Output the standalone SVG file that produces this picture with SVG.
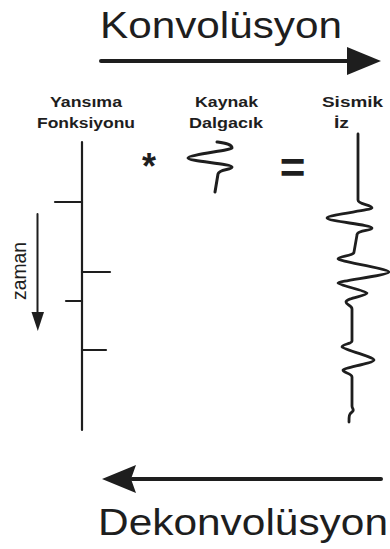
<svg xmlns="http://www.w3.org/2000/svg" width="390" height="549" viewBox="0 0 390 549">
  <style>
    .title { font-family: "Liberation Sans", Arial, sans-serif; fill: #1e1e1e; }
    .label { font-family: "Liberation Sans", Arial, sans-serif; font-weight: bold; font-size: 14.5px; fill: #1e1e1e; }
    .op { font-family: "Liberation Sans", Arial, sans-serif; fill: #1e1e1e; text-anchor: middle; }
    .wire { fill: none; stroke: #1e1e1e; stroke-linecap: round; stroke-linejoin: round; }
    .head { fill: #1e1e1e; }
  </style>
  <rect width="390" height="549" fill="#ffffff"/>

  <!-- process arrows -->
  <g id="connectors">
    <line class="wire" x1="101" y1="61" x2="352" y2="61" stroke-width="4"/>
    <polygon class="head" points="347,47 381,61 347,75"/>
    <line class="wire" x1="132" y1="479" x2="381" y2="479" stroke-width="4"/>
    <polygon class="head" points="102,479 136,465 131,479 136,493"/>
  </g>

  <g id="title-convolution">
    <text class="title" x="100" y="38" font-size="36" textLength="242" lengthAdjust="spacingAndGlyphs">Konvolüsyon</text>
  </g>
  <g id="title-deconvolution">
    <text class="title" x="98" y="535" font-size="37" textLength="290" lengthAdjust="spacingAndGlyphs">Dekonvolüsyon</text>
  </g>

  <!-- reflectivity series -->
  <g id="reflectivity">
    <text class="label" x="50" y="107" textLength="72" lengthAdjust="spacingAndGlyphs">Yansıma</text>
    <text class="label" x="37" y="128" textLength="98" lengthAdjust="spacingAndGlyphs">Fonksiyonu</text>
    <line class="wire" x1="82" y1="142" x2="82" y2="430" stroke-width="2.2"/>
    <line class="wire" x1="55" y1="202" x2="82" y2="202" stroke-width="2.2"/>
    <line class="wire" x1="82" y1="272" x2="110" y2="272" stroke-width="2.2"/>
    <line class="wire" x1="66" y1="301" x2="82" y2="301" stroke-width="2.2"/>
    <line class="wire" x1="82" y1="350" x2="106" y2="350" stroke-width="2.2"/>
  </g>

  <!-- time axis -->
  <g id="time-axis">
    <line class="wire" x1="37.5" y1="214" x2="37.5" y2="316" stroke-width="2"/>
    <polygon class="head" points="31.5,312 44,312 37.8,331"/>
    <text class="title" transform="translate(26,300) rotate(-90) scale(1,1.15)" font-size="17" textLength="58" lengthAdjust="spacingAndGlyphs">zaman</text>
  </g>

  <g id="operator-convolve">
    <text class="op" x="149" y="179" style="font-size:36px;font-weight:bold">*</text>
  </g>

  <!-- source wavelet -->
  <g id="wavelet">
    <text class="label" x="195" y="107" textLength="63" lengthAdjust="spacingAndGlyphs">Kaynak</text>
    <text class="label" x="189" y="128" textLength="74" lengthAdjust="spacingAndGlyphs">Dalgacık</text>
    <path class="wire" stroke-width="3" d="M217,142 C224,143 232,144 232,148 C232,150 188,155 188,158 C188,161 232,164 232,167 C232,170 219,169 218,174 L215,192"/>
  </g>

  <g id="operator-equals">
    <text class="op" x="292.5" y="182.5" style="font-size:44px;font-weight:bold">=</text>
  </g>

  <!-- seismic trace -->
  <g id="trace">
    <text class="label" x="322" y="107" textLength="61" lengthAdjust="spacingAndGlyphs">Sismik</text>
    <text class="label" x="334" y="128" textLength="15" lengthAdjust="spacingAndGlyphs">İz</text>
    <path class="wire" stroke-width="2.8" d="M358,134 L358,200 C358,205 372,204 372,208 C372,210 327,215 327,218 C327,221 372,225 372,228 C372,231 357,230 357,235 L354,252 C354,256 338,256 338,259 C338,261 389,269 389,272 C389,275 338,281 338,283 C338,285 367,291 367,293 C367,296 346,298 346,302 C346,305 352,305 352,309 L352,341 C352,344 342,344 342,347 C342,349 374,357 374,360 C374,363 343,368 343,370 C343,373 352,373 352,377 L352,406 C352,409 355,410 352,412 C349,414 349,416 349,422"/>
  </g>
</svg>
